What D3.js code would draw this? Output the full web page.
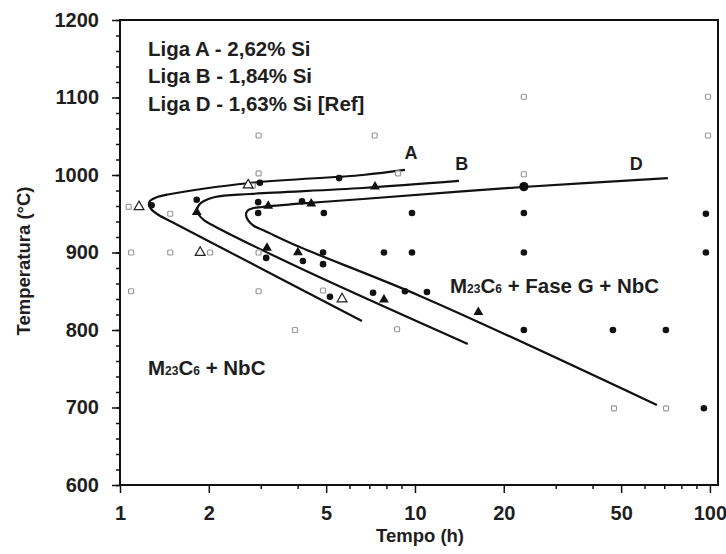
<!DOCTYPE html>
<html>
<head>
<meta charset="utf-8">
<script src="https://cdn.jsdelivr.net/npm/d3@7"></script>
<style>
  html, body { margin: 0; padding: 0; background: #fff; }
  svg { display: block; font-family: 'Liberation Sans', Arial, sans-serif; font-weight: bold; }
</style>
</head>
<body>
<div id="chart"></div>
<script>
// curves: [tempo (h), temperatura (°C)] in path order, upper branch -> nose -> lower branch
const curveA = [[9.25, 1006.5], [6.66, 1000], [2.76, 989.7], [1.454, 974.8], [1.325, 971], [1.264, 966.5],
  [1.254, 961.3], [1.274, 956.1], [1.335, 949.7], [1.5, 939.4], [6.61, 811.6]]
const curveB = [[14.1, 992.3], [6.66, 983.2], [2.76, 975.5], [2.1, 971.6], [1.926, 966.5], [1.852, 961.3],
  [1.824, 954.8], [1.852, 948.4], [1.926, 941.9], [2.083, 934.2], [4.07, 880], [15.1, 782]]
const curveD = [[72, 996], [23.2, 984.5], [6.66, 969], [4.41, 964], [3.03, 958.7], [2.8, 956.8],
  [2.7, 953.5], [2.674, 948.4], [2.717, 941.9], [2.846, 934.2], [3.1, 927.7], [4.07, 907],
  [10.4, 844], [66.1, 703.2]]

const openSquares = [[1.07, 959], [1.48, 950], [1.09, 900], [1.48, 900], [2.02, 900], [2.95, 900],
  [1.09, 850], [2.95, 850], [4.88, 851], [3.92, 800], [8.7, 801], [2.95, 1051], [7.3, 1051],
  [2.95, 1002], [8.76, 1002], [23.4, 1001], [23.4, 1101], [98.5, 1101], [98.5, 1051],
  [47.3, 699], [71, 699], [2.82, 986]]
const openTriangles = [[1.16, 959], [1.87, 900], [5.66, 840], [2.72, 987]]
const filledTriangles = [[1.82, 952], [3.18, 960], [4.45, 963], [7.32, 985], [3.15, 906],
  [4.01, 900], [7.85, 839], [16.4, 823]]
const filledCircles = [[1.28, 961], [1.82, 968], [2.98, 990], [2.94, 965], [2.94, 951], [4.14, 966],
  [4.91, 951], [9.77, 951], [23.4, 951], [96.9, 950], [5.53, 996], [3.13, 893], [4.17, 889],
  [4.88, 900], [4.88, 885], [7.85, 900], [9.77, 900], [23.4, 900], [96.9, 900], [5.15, 843],
  [7.21, 848], [9.25, 850], [10.98, 849], [23.4, 800], [46.9, 800], [70.9, 800], [95.4, 699]]
const bigCircles = [[23.4, 985]]

const xTicks = [1, 2, 5, 10, 20, 50, 100]
const xMinor = [3, 4, 6, 7, 8, 9, 30, 40, 60, 70, 80, 90]
const yTicks = [600, 700, 800, 900, 1000, 1100, 1200]
const legendLines = ['Liga A - 2,62% Si', 'Liga B - 1,84% Si', 'Liga D - 1,63% Si [Ref]']

const width = 726
const height = 554
const plot = { left: 120, right: 718, top: 20, bottom: 485 }

const x = d3.scaleLog().domain([1, 106.5]).range([plot.left, plot.right])
const y = d3.scaleLinear().domain([600, 1200]).range([plot.bottom, plot.top])

const svg = d3.select('#chart').append('svg')
  .attr('width', width)
  .attr('height', height)
  .attr('viewBox', `0 0 ${width} ${height}`)

// axes
svg.append('g').attr('transform', `translate(${plot.left},0)`)
  .call(d3.axisLeft(y).tickValues(yTicks).tickSize(8).tickPadding(13).tickFormat(d3.format('d')))
svg.append('g').attr('transform', `translate(${plot.left},0)`)
  .call(d3.axisLeft(y).tickValues(d3.range(600, 1201, 20)).tickSize(4).tickFormat(''))

svg.append('g').attr('transform', `translate(0,${plot.bottom})`)
  .call(d3.axisBottom(x).tickValues(xTicks).tickSize(8).tickPadding(13).tickFormat(d3.format('d')))
svg.append('g').attr('transform', `translate(0,${plot.bottom})`)
  .call(d3.axisBottom(x).tickValues(xMinor).tickSize(4).tickFormat(''))

svg.selectAll('.domain').remove()
svg.selectAll('.tick line').attr('stroke', '#111').attr('stroke-width', 1.5)
svg.selectAll('.tick text').attr('font-size', 20).attr('font-weight', 'bold').attr('fill', '#1e1e1e')
  .attr('font-family', "'Liberation Sans', Arial, sans-serif")

svg.append('rect')
  .attr('x', plot.left).attr('y', plot.top)
  .attr('width', plot.right - plot.left).attr('height', plot.bottom - plot.top)
  .attr('fill', 'none').attr('stroke', '#111').attr('stroke-width', 2)

svg.append('text')
  .attr('x', 420).attr('y', 542)
  .attr('text-anchor', 'middle').attr('font-size', 18.5).attr('fill', '#1e1e1e')
  .text('Tempo (h)')

svg.append('text')
  .attr('transform', 'translate(30,261) rotate(-90)')
  .attr('text-anchor', 'middle').attr('font-size', 18.5).attr('fill', '#1e1e1e')
  .text('Temperatura (°C)')

// C-curves
const line = d3.line()
  .x((d) => x(d[0]))
  .y((d) => y(d[1]))
  .curve(d3.curveCatmullRom.alpha(0.5))

svg.append('g').selectAll('path')
  .data([curveA, curveB, curveD])
  .join('path')
  .attr('d', line)
  .attr('fill', 'none')
  .attr('stroke', '#111')
  .attr('stroke-width', 2.2)

// markers
svg.append('g').selectAll('rect')
  .data(openSquares)
  .join('rect')
  .attr('x', (d) => x(d[0]) - 2.5)
  .attr('y', (d) => y(d[1]) - 2.5)
  .attr('width', 5).attr('height', 5).attr('rx', 1)
  .attr('fill', '#fff').attr('stroke', '#999').attr('stroke-width', 1.2)

const tri = d3.symbol().type(d3.symbolTriangle).size(42)

svg.append('g').selectAll('path')
  .data(openTriangles)
  .join('path')
  .attr('transform', (d) => `translate(${x(d[0])},${y(d[1])})`)
  .attr('d', tri)
  .attr('fill', '#fff').attr('stroke', '#222').attr('stroke-width', 1.2)

svg.append('g').selectAll('path')
  .data(filledTriangles)
  .join('path')
  .attr('transform', (d) => `translate(${x(d[0])},${y(d[1])})`)
  .attr('d', tri)
  .attr('fill', '#111')

svg.append('g').selectAll('circle')
  .data(filledCircles)
  .join('circle')
  .attr('cx', (d) => x(d[0]))
  .attr('cy', (d) => y(d[1]))
  .attr('r', 3.3)
  .attr('fill', '#111')

svg.append('g').selectAll('circle')
  .data(bigCircles)
  .join('circle')
  .attr('cx', (d) => x(d[0]))
  .attr('cy', (d) => y(d[1]))
  .attr('r', 4.6)
  .attr('fill', '#111')

// curve letters
svg.append('g').selectAll('text')
  .data([['A', 9.7, 1020.6], ['B', 14.4, 1006.5], ['D', 56.3, 1006.5]])
  .join('text')
  .attr('x', (d) => x(d[1]))
  .attr('y', (d) => y(d[2]))
  .attr('text-anchor', 'middle')
  .attr('font-size', 18)
  .attr('fill', '#1e1e1e')
  .text((d) => d[0])

// legend
svg.append('g').selectAll('text')
  .data(legendLines)
  .join('text')
  .attr('x', 148)
  .attr('y', (d, i) => 56 + i * 27.3)
  .attr('font-size', 20.5)
  .attr('fill', '#1e1e1e')
  .text((d) => d)

// phase regions
function phaseLabel(px, py, rest) {
  const t = svg.append('text').attr('x', px).attr('y', py).attr('font-size', 20.5).attr('fill', '#1e1e1e')
  t.append('tspan').text('M')
  t.append('tspan').attr('font-size', 12).text('23')
  t.append('tspan').text('C')
  t.append('tspan').attr('font-size', 12).text('6')
  t.append('tspan').text(rest)
}
phaseLabel(148, 375, ' + NbC')
phaseLabel(450, 293, ' + Fase G + NbC')
</script>
</body>
</html>
